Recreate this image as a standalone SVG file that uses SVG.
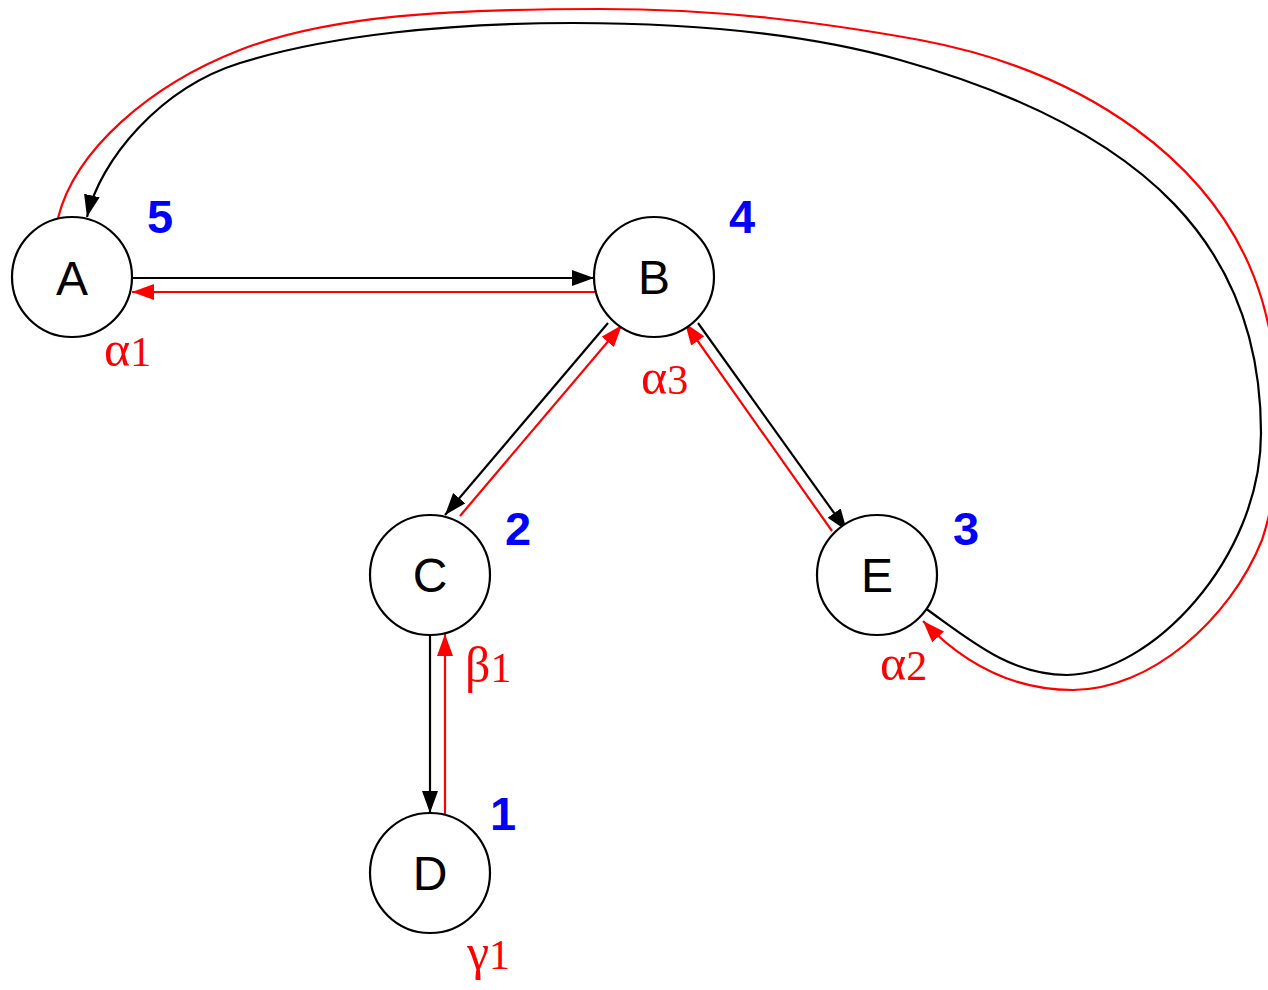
<svg xmlns="http://www.w3.org/2000/svg" width="1268" height="990" viewBox="0 0 1268 990">
<style>
.node circle{fill:#fff;stroke:#000;stroke-width:2.2}
.node text{font-family:"Liberation Sans",Arial,sans-serif;font-size:48px;fill:#000;text-anchor:middle}
.num{font-family:"Liberation Sans",Arial,sans-serif;font-size:47px;font-weight:bold;fill:#0000ff}
.lab{font-family:"Liberation Serif","Times New Roman",serif;font-size:42px;fill:#ff0000}
.g{font-size:50px}
.blk{fill:none;stroke:#000;stroke-width:2.2}
.red{fill:none;stroke:#ff0000;stroke-width:2.2}
</style>
<defs>
<marker id="ab" markerUnits="userSpaceOnUse" markerWidth="24" markerHeight="18" refX="22" refY="8" orient="auto"><path d="M0,0 L22,8 L0,16 z" fill="#000"/></marker>
<marker id="ar" markerUnits="userSpaceOnUse" markerWidth="24" markerHeight="18" refX="22" refY="8" orient="auto"><path d="M0,0 L22,8 L0,16 z" fill="#ff0000"/></marker>
</defs>
<g id="connectors">
<line class="blk" x1="132" y1="278" x2="594" y2="278" marker-end="url(#ab)"/>
<line class="red" x1="596" y1="292" x2="132" y2="292" marker-end="url(#ar)"/>
<line class="blk" x1="608" y1="323" x2="445" y2="515" marker-end="url(#ab)"/>
<line class="red" x1="460" y1="516" x2="622" y2="325" marker-end="url(#ar)"/>
<line class="blk" x1="698" y1="323" x2="847" y2="531" marker-end="url(#ab)"/>
<line class="red" x1="832" y1="531" x2="685" y2="323" marker-end="url(#ar)"/>
<line class="blk" x1="430" y1="635" x2="430" y2="813" marker-end="url(#ab)"/>
<line class="red" x1="445" y1="815" x2="445" y2="634" marker-end="url(#ar)"/>
<path class="blk" d="M921,604 L925,608 C970,640 1010,675 1067,675 C1150,674 1261,560 1261,433 C1261,250 1150,130 900,60 C800,32 680,23 573,23 C450,23 330,35 240,63 C160,88 100,160 87,217" marker-end="url(#ab)"/>
<path class="red" d="M58,218 C75,150 150,85 240,50 C330,15 450,9 600,9 C720,9 820,22 920,40 C1080,70 1220,160 1262,300 C1285,380 1285,470 1262,540 C1230,620 1150,690 1073,690 C1010,690 960,660 923,621" marker-end="url(#ar)"/>
</g>
<g id="node-A" class="node"><circle cx="72" cy="277" r="60"/><text x="72" y="295">A</text></g>
<g id="node-B" class="node"><circle cx="654" cy="277" r="60"/><text x="654" y="294">B</text></g>
<g id="node-C" class="node"><circle cx="430" cy="575" r="60"/><text x="430" y="592">C</text></g>
<g id="node-D" class="node"><circle cx="430" cy="873" r="60"/><text x="430" y="890">D</text></g>
<g id="node-E" class="node"><circle cx="877" cy="575" r="60"/><text x="877" y="592">E</text></g>
<g id="labels">
<text class="num" x="147" y="233">5</text>
<text class="num" x="729" y="233">4</text>
<text class="num" x="505" y="545">2</text>
<text class="num" x="953" y="545">3</text>
<text class="num" x="490" y="830">1</text>
<text class="lab" x="104" y="366"><tspan class="g">α</tspan>1</text>
<text class="lab" x="641" y="394"><tspan class="g">α</tspan>3</text>
<text class="lab" x="465" y="682"><tspan class="g">β</tspan>1</text>
<text class="lab" x="880" y="680"><tspan class="g">α</tspan>2</text>
<text class="lab" x="467" y="969"><tspan class="g">γ</tspan>1</text>
</g>
</svg>
